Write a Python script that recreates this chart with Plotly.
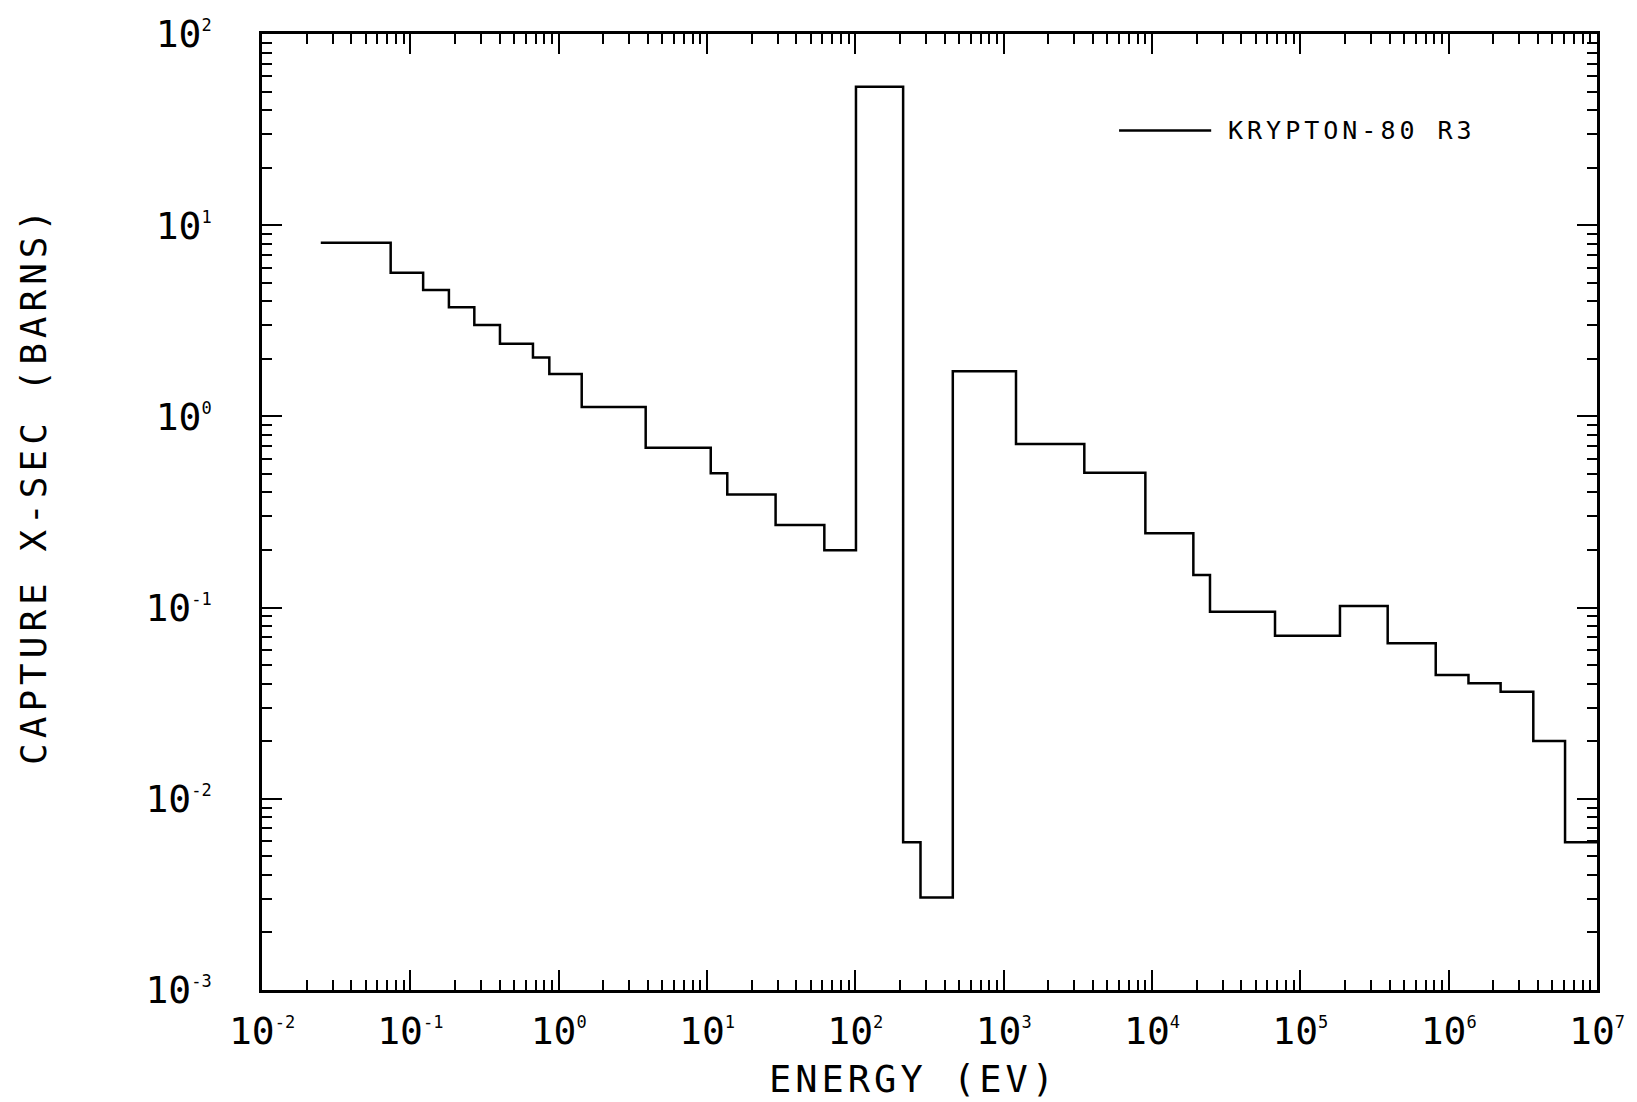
import plotly.graph_objects as go

# Group boundaries (eV) and group-averaged capture cross sections (barns)
energy_edges = [0.0249, 0.0737, 0.122, 0.182, 0.27, 0.402, 0.671, 0.865, 1.43,
                3.86, 10.6, 13.7, 29.0, 61.8, 101, 210, 275, 454, 1211, 3497,
                9020, 19000, 24600, 67500, 185000, 388000, 818000, 1.36e6,
                2.24e6, 3.72e6, 6.09e6, 1.0e7]
capture_xs = [8.1, 5.64, 4.58, 3.72, 3.01, 2.40, 2.03, 1.667, 1.12, 0.686,
              0.504, 0.391, 0.270, 0.1993, 53.0, 0.00593, 0.00305, 1.72, 0.718,
              0.508, 0.2446, 0.148, 0.0952, 0.0713, 0.102, 0.065, 0.0444,
              0.0402, 0.0363, 0.02006, 0.00592]

series_name = "KRYPTON-80 R3"
x_decades = list(range(-2, 8))
y_decades = list(range(-3, 3))

FONT = "DejaVu Sans Mono"


def pow_label(e):
    return f"10<sup><span style='font-size:17px'>{e}</span></sup>"


def minor_vals(lo, hi):
    vals = []
    for d in range(lo, hi):
        for m in range(2, 10):
            vals.append(m * 10.0 ** d)
    return vals


fig = go.Figure()
fig.add_trace(go.Scatter(
    x=energy_edges,
    y=capture_xs + [capture_xs[-1]],
    mode="lines",
    line=dict(color="black", width=2.5, shape="hv"),
    name=series_name,
    showlegend=False,
))

axis_common = dict(
    type="log",
    showgrid=False,
    zeroline=False,
    showline=True,
    linecolor="black",
    linewidth=2.5,
    mirror="allticks",
    ticks="inside",
    ticklen=20,
    tickwidth=2,
    tickcolor="black",
    tickfont=dict(family=FONT, size=38, color="black"),
)

fig.update_xaxes(
    **axis_common,
    range=[-2, 7],
    tickvals=[10.0 ** e for e in x_decades],
    ticktext=[pow_label(e) for e in x_decades],
    ticklabelstandoff=6,
    minor=dict(tickvals=minor_vals(-2, 7), ticks="inside", ticklen=10,
               tickwidth=2, tickcolor="black"),
)
fig.update_yaxes(
    **axis_common,
    range=[-3, 2],
    tickvals=[10.0 ** e for e in y_decades],
    ticktext=[pow_label(e) for e in y_decades],
    ticklabelstandoff=40,
    minor=dict(tickvals=minor_vals(-3, 2), ticks="inside", ticklen=10,
               tickwidth=2, tickcolor="black"),
)

# Axis titles
fig.add_annotation(
    text="<span style='letter-spacing:4px'>ENERGY (EV)</span>",
    xref="paper", yref="paper", x=0.488, y=-0.094,
    xanchor="center", yanchor="middle",
    showarrow=False, font=dict(family=FONT, size=37, color="black"),
)
fig.add_annotation(
    text="<span style='letter-spacing:5px'>CAPTURE X-SEC (BARNS)</span>",
    xref="paper", yref="paper", x=-0.171, y=0.528, textangle=-90,
    xanchor="center", yanchor="middle",
    showarrow=False, font=dict(family=FONT, size=36, color="black"),
)

# Legend key
fig.add_shape(type="line", xref="paper", yref="paper",
              x0=0.642, x1=0.711, y0=0.899, y1=0.899,
              line=dict(color="black", width=2.5))
fig.add_annotation(
    text=f"<span style='letter-spacing:4px'>{series_name}</span>",
    xref="paper", yref="paper", x=0.722, y=0.899,
    xanchor="left", yanchor="middle",
    showarrow=False, font=dict(family=FONT, size=25, color="black"),
)

fig.update_layout(
    width=1637, height=1102,
    margin=dict(l=262, r=40, t=34, b=112),
    paper_bgcolor="white",
    plot_bgcolor="white",
    showlegend=False,
)

fig.write_html("out.html")
